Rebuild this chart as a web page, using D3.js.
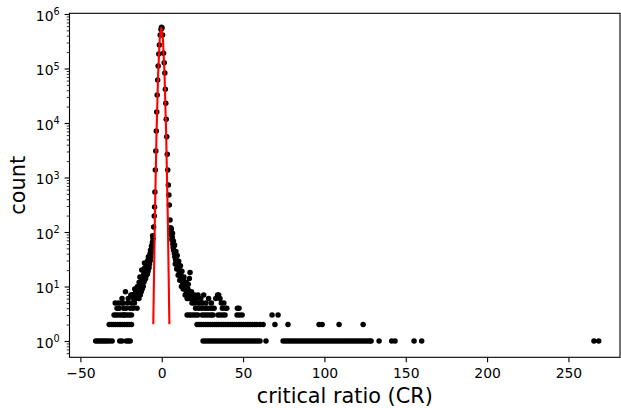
<!DOCTYPE html>
<html><head><meta charset="utf-8">
<script src="https://cdn.jsdelivr.net/npm/d3@7"></script>
<style>body{margin:0;background:#fff} svg{display:block} text{font-family:"DejaVu Sans",sans-serif;fill:#000}</style>
</head><body><svg id="c" width="621" height="408"></svg>
<script>
// ---- data ----
const peakCR    = [-0.16, 0.16, -0.47, -0.95, -1.45, -1.8, -2.2, -2.5, -2.8, -3.05, -3.35, -3.65, -3.95, -4.2, -4.4, -4.6, -5.0,
                   0.5, 1.1, 1.5, 1.9, 2.2, 2.5, 2.75, 3.1, 3.4, 3.7, 4.05, 4.4, 4.7, 5.1, 5.5, 5.7];
const peakCount = [570000, 555000, 520000, 412000, 270000, 185000, 111000, 61500, 32600, 15900, 7130, 3060, 1370, 542, 288, 197, 124,
                   412000, 190000, 128000, 82600, 41500, 23000, 11700, 5610, 2670, 1370, 728, 478, 313, 166, 120, 101];

const leftCR    = [-5.4, -5.6, -5.7, -5.9, -6.1, -6.3, -6.4, -6.7, -6.9, -7.0, -7.2, -7.3, -7.5, -7.8, -7.9, -8.2, -8.2, -8.5, -8.6, -8.8, -8.9, -9.1, -9.3, -9.4, -9.6, -9.9, -10.0, -10.3, -10.4, -10.6, -10.6, -10.9, -11.0, -11.2, -11.4, -11.7, -12.0, -12.2, -12.3, -12.4, -12.6, -13.0, -13.2, -13.4, -13.6, -13.9, -14.0, -14.3, -14.6, -14.9, -15.0, -15.2, -15.6, -15.8, -16.0, -16.4, -16.6, -16.8, -17.2, -17.6, -17.9, -18.2, -18.4, -18.6, -19.0, -19.3, -19.4, -19.9, -20.0, -20.5, -20.6, -21.0, -21.2, -21.4, -21.8, -22.0, -22.3, -22.6, -22.9, -23.2, -23.4, -23.8, -24.0, -24.2, -24.4, -24.5, -24.8, -25.3, -25.6, -25.8, -26.2, -26.6, -26.8, -27.0, -27.5, -28.1, -28.4, -28.6, -29.3, -29.7, -30.5, -31.0, -32.0, -32.3, -33.4, -34.6, -35.8, -37.0, -38.2, -39.4, -40.6, -18.6];
const leftCount = [75, 85, 65, 58, 50, 55, 42, 36, 46, 30, 40, 33, 26, 22, 28, 21, 35, 19, 30, 17, 24, 20, 26, 16, 18, 14, 19, 15, 22, 27, 13, 17, 12, 16, 10, 14, 9, 13, 20, 11, 8, 11, 7, 15, 10, 12, 6, 9, 8, 10, 7, 4, 9, 6, 8, 7, 9, 5, 6, 4, 7, 7, 5, 2, 7, 4, 1, 3, 2, 1, 6, 5, 3, 2, 1, 4, 8, 3, 2, 3, 4, 5, 3, 2, 6, 1, 5, 3, 2, 1, 4, 5, 3, 2, 4, 3, 2, 5, 3, 2, 1, 2, 1, 2, 1, 1, 1, 1, 1, 1, 1, 3];

const rightCR    = [6.0, 6.2, 6.5, 6.8, 7.0, 7.3, 7.5, 7.8, 8.0, 8.2, 8.5, 8.8, 9.0, 9.3, 9.6, 9.9, 10.2, 10.5, 10.8, 11.0, 11.3, 11.6, 11.9, 12.2, 12.5, 12.8, 13.1, 13.4, 13.7, 14.0, 14.3, 14.6, 14.9, 15.2, 15.5, 15.8, 16.1, 16.4, 16.7, 17.0, 17.4, 17.7, 18.0, 18.3, 18.6, 19.0, 19.4, 19.8, 20.3, 20.8, 21.3, 21.8, 22.3, 22.8, 23.4, 24.0, 24.6, 25.2, 25.8, 26.5, 27.2, 28.0, 28.8, 29.6, 30.5, 31.3, 32.2, 33.2, 34.3, 35.0, 35.8, 36.6, 37.3, 38.2, 39.2, 40.0, 46.5, 47.5,
                    5.9, 6.6, 7.2, 7.9, 8.7, 9.5, 10.4, 11.5, 12.4, 13.6, 15.0, 16.3, 8.3, 9.2, 10.1, 11.1, 12.1, 13.2, 14.4, 15.6];
const rightCount = [88, 72, 80, 60, 52, 46, 55, 40, 35, 42, 31, 36, 27, 30, 24, 26, 21, 23, 18, 20, 16, 17, 14, 15, 13, 12, 14, 11, 10, 12, 11, 9, 10, 8, 9, 7, 9, 6, 8, 14, 18, 7, 6, 8, 5, 7, 6, 5, 7, 4, 6, 5, 7, 4, 5, 6, 4, 5, 7, 4, 5, 4, 6, 4, 5, 4, 4, 6, 7, 7, 6, 5, 4, 5, 4, 4, 4, 4,
                    115, 95, 68, 58, 44, 37, 29, 24, 19, 15, 12, 11, 26, 21, 16, 13, 10, 9, 7, 6];

const row3CR = [15.6, 16.9, 18.2, 19.6, 20.9, 22.2, 24.8, 26.2, 27.6, 29.0, 30.4, 31.5, 34.6, 36.0, 37.5, 38.9, 46.3, 47.8, 49.4, 67.8, 71.5];
const row2CR = [21.7, 23.0, 24.3, 25.7, 27.0, 28.4, 29.8, 31.1, 32.5, 33.9, 35.2, 36.6, 38.0, 39.3, 40.7, 42.0, 43.4, 44.8, 46.1, 47.5, 48.9, 50.2, 51.6, 53.0, 54.3, 55.7, 57.1, 58.4, 60.4, 62.3, 69.6, 77.6, 96.7, 98.6, 109.0, 123.8];
const row1CR = [25.4, 26.8, 28.2, 29.6, 31.0, 32.4, 33.8, 35.2, 36.6, 38.0, 39.4, 40.8, 42.2, 43.6, 45.0, 46.4, 47.8, 49.2, 50.6, 52.0, 53.4, 54.8, 56.2, 57.6, 59.0, 60.4, 64.1, 74.6, 76.0, 77.4, 78.8, 80.2, 81.6, 83.0, 84.4, 85.8, 87.2, 88.6, 90.0, 91.4, 92.8, 94.2, 95.6, 97.0, 98.4, 99.8, 101.2, 102.6, 104.0, 105.4, 106.8, 108.2, 109.6, 111.0, 112.4, 113.8, 115.2, 116.6, 118.0, 119.4, 120.8, 122.2, 123.6, 125.0, 126.4, 127.8, 128.7, 133.6, 141.4, 143.4, 155.1, 159.8, 265.7, 268.6];

const fitCR    = [-5.2, -4.21, -3.22, -2.23, -1.24, -0.25, 0.74, 1.73, 2.72, 3.71, 4.7];
const fitCount = [2.03, 186, 6220, 76600, 345000, 570000, 345000, 76600, 6220, 186, 2.03];

const xTicks = [-50, 0, 50, 100, 150, 200, 250];
const yExponents = [0, 1, 2, 3, 4, 5, 6];

// ---- build point table ----
const points = [];
peakCR.forEach((v, i) => points.push({cr: v, n: peakCount[i]}));
leftCR.forEach((v, i) => points.push({cr: v, n: leftCount[i]}));
rightCR.forEach((v, i) => points.push({cr: v, n: rightCount[i]}));
row3CR.forEach(v => points.push({cr: v, n: 3}));
row2CR.forEach(v => points.push({cr: v, n: 2}));
row1CR.forEach(v => points.push({cr: v, n: 1}));

// ---- layout ----
const L = 69.5, R = 620, T = 13.3, B = 357.3;
const svg = d3.select("#c");
const x = d3.scaleLinear().domain([-56.7, 281.7]).range([L, R]);
const y = d3.scaleLog().domain([0.502, 1.03e6]).range([B, T]);

// points
svg.append("g").selectAll("circle").data(points).join("circle")
  .attr("cx", d => x(d.cr)).attr("cy", d => y(d.n)).attr("r", 2.75).attr("fill", "#000");

// fit line
svg.append("path")
  .attr("d", d3.line().x((d, i) => x(fitCR[i])).y((d, i) => y(fitCount[i]))(fitCR))
  .attr("fill", "none").attr("stroke", "#ff0000").attr("stroke-width", 2.1);

// x axis
const xa = svg.append("g").attr("transform", `translate(0,${B})`)
  .call(d3.axisBottom(x).tickValues(xTicks).tickSize(4.9).tickPadding(4.5).tickFormat(d3.format("d")));
xa.select(".domain").remove();
xa.selectAll(".tick line").attr("stroke", "#000").attr("stroke-width", 1.1);
xa.selectAll(".tick text").attr("font-size", 13.9).attr("font-family", "DejaVu Sans").attr("fill", "#000").attr("dy", null).attr("y", 21.2);

// y axis major
const majors = yExponents.map(e => Math.pow(10, e));
const ya = svg.append("g").attr("transform", `translate(${L},0)`)
  .call(d3.axisLeft(y).tickValues(majors).tickSize(4.9).tickFormat(""));
ya.select(".domain").remove();
ya.selectAll(".tick line").attr("stroke", "#000").attr("stroke-width", 1.1);

// y minor ticks
const minors = [];
for (let e = -1; e <= 6; e++) for (let m = 2; m <= 9; m++) {
  const v = m * Math.pow(10, e);
  if (v >= y.domain()[0] && v <= y.domain()[1]) minors.push(v);
}
const ym = svg.append("g").attr("transform", `translate(${L},0)`)
  .call(d3.axisLeft(y).tickValues(minors).tickSize(2.8).tickFormat(""));
ym.select(".domain").remove();
ym.selectAll(".tick line").attr("stroke", "#000").attr("stroke-width", 0.8);

// y tick labels (10^n)
const yl = svg.append("g");
yExponents.forEach(e => {
  const t = yl.append("text").attr("x", L - 9.8).attr("y", y(Math.pow(10, e)) + 7)
    .attr("text-anchor", "end").attr("font-size", 13.9);
  t.append("tspan").text("10");
  t.append("tspan").attr("font-size", 9.7).attr("dy", -5.6).text(String(e));
});

// frame
svg.append("rect").attr("x", L).attr("y", T).attr("width", R - L).attr("height", B - T)
  .attr("fill", "none").attr("stroke", "#000").attr("stroke-width", 1.1);

// axis labels
svg.append("text").attr("x", (L + R) / 2).attr("y", 403).attr("text-anchor", "middle")
  .attr("font-size", 20.8).text("critical ratio (CR)");
svg.append("text").attr("transform", `translate(24.5,${(T + B) / 2}) rotate(-90)`).attr("text-anchor", "middle")
  .attr("font-size", 20.8).text("count");
</script></body></html>
